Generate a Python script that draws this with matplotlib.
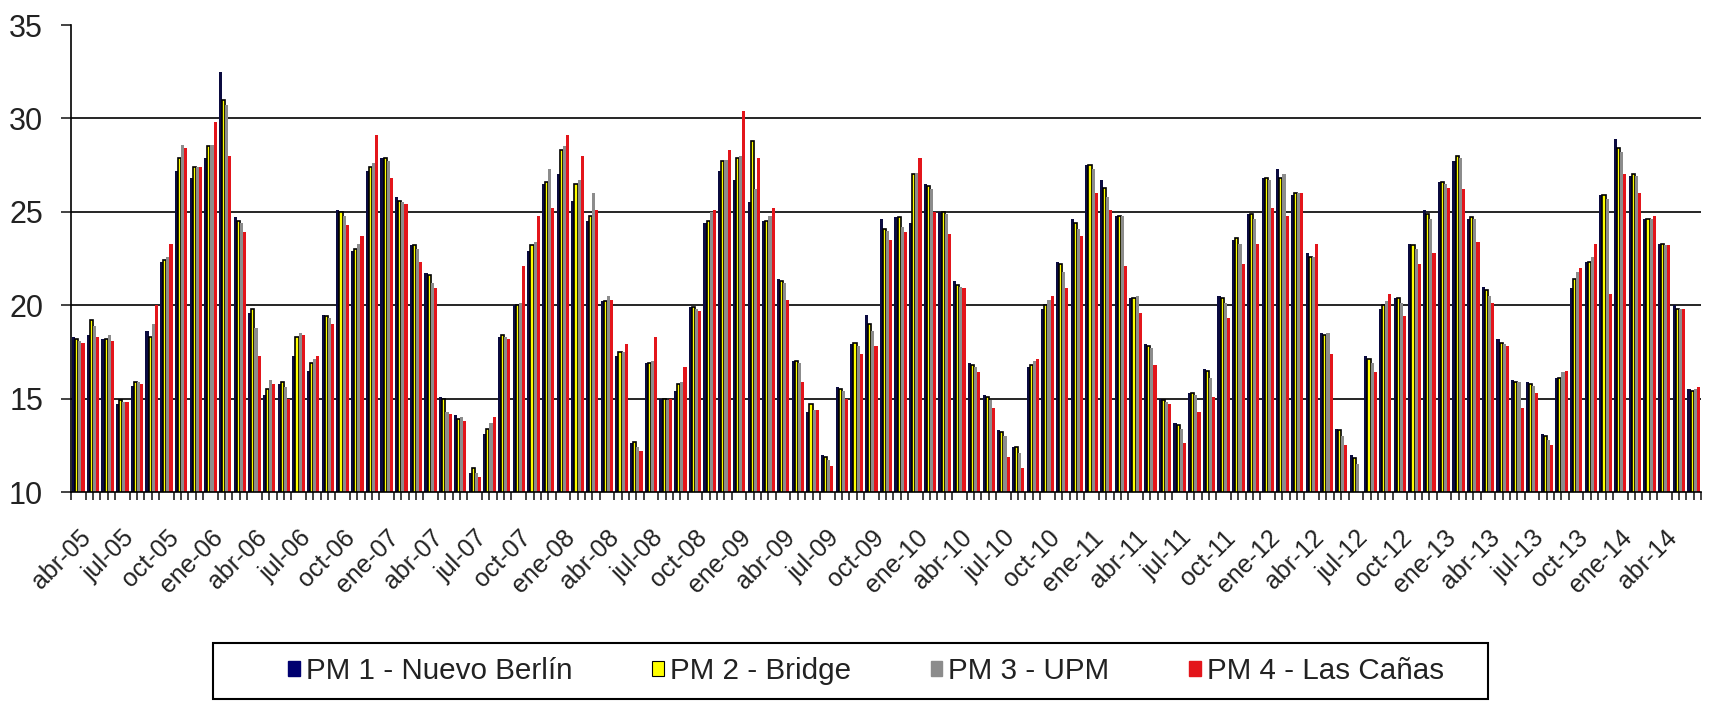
import numpy as np
import matplotlib.pyplot as plt
from matplotlib.patches import Patch, Rectangle

plt.rcParams["font.family"] = ["Liberation Sans", "DejaVu Sans"]

# monthly values, abr-05 .. jun-14
MESES = ["ene", "feb", "mar", "abr", "may", "jun", "jul", "ago", "sep", "oct", "nov", "dic"]

pm1 = [18.3, 18.4, 18.2, 14.7, 15.7, 18.6, 22.3, 27.2, 26.8, 27.9, 32.5, 24.7,
       19.6, 15.2, 15.8, 17.3, 16.5, 19.5, 25.1, 22.9, 27.2, 27.9, 25.8, 23.2,
       21.7, 15.1, 14.1, 11.0, 13.1, 18.3, 20.0, 22.9, 26.5, 27.0, 25.6, 24.5,
       20.2, 17.3, 12.6, 16.9, 15.0, 15.4, 19.9, 24.4, 27.2, 26.7, 25.5, 24.5,
       21.4, 17.0, 14.3, 12.0, 15.6, 17.9, 19.5, 24.6, 24.7, 24.4, 26.5, 25.0,
       21.3, 16.9, 15.2, 13.3, 12.4, 16.7, 19.8, 22.3, 24.6, 27.5, 26.7, 24.8,
       20.4, 17.9, 15.0, 13.7, 15.3, 16.6, 20.5, 23.5, 24.9, 26.8, 27.3, 25.9,
       22.8, 18.5, 13.4, 12.0, 17.3, 19.8, 20.4, 23.3, 25.1, 26.6, 27.7, 24.6,
       21.0, 18.2, 16.0, 15.9, 13.1, 16.1, 20.9, 22.3, 25.9, 28.9, 26.9, 24.6,
       23.3, 20.0, 15.5]

pm2 = [18.2, 19.2, 18.2, 14.9, 15.9, 18.3, 22.4, 27.9, 27.4, 28.5, 31.0, 24.5,
       19.8, 15.5, 15.9, 18.3, 16.9, 19.4, 25.0, 23.0, 27.4, 27.9, 25.6, 23.2,
       21.6, 15.0, 13.9, 11.3, 13.4, 18.4, 20.0, 23.2, 26.6, 28.3, 26.5, 24.8,
       20.2, 17.5, 12.7, 16.9, 15.0, 15.8, 19.9, 24.5, 27.7, 27.9, 28.8, 24.5,
       21.3, 17.0, 14.7, 11.9, 15.5, 18.0, 19.0, 24.1, 24.7, 27.0, 26.4, 25.0,
       21.1, 16.8, 15.1, 13.2, 12.4, 16.8, 20.0, 22.2, 24.4, 27.5, 26.3, 24.8,
       20.4, 17.8, 14.9, 13.6, 15.3, 16.5, 20.4, 23.6, 24.9, 26.8, 26.8, 26.0,
       22.6, 18.4, 13.3, 11.8, 17.1, 20.0, 20.4, 23.2, 24.9, 26.6, 28.0, 24.7,
       20.8, 18.0, 15.9, 15.8, 13.0, 16.1, 21.4, 22.3, 25.9, 28.4, 27.0, 24.6,
       23.3, 19.8, 15.4]

pm3 = [18.1, 18.9, 18.4, 14.8, 15.9, 19.0, 22.6, 28.6, 27.4, 28.6, 30.7, 24.4,
       18.8, 16.0, 15.6, 18.5, 17.1, 19.3, 24.8, 23.3, 27.6, 27.7, 25.5, 23.0,
       21.2, 14.3, 14.0, 11.0, 13.7, 18.3, 20.1, 23.4, 27.3, 28.5, 26.7, 26.0,
       20.5, 17.5, 12.4, 17.0, 14.9, 15.9, 19.8, 25.0, 27.8, 28.0, 26.2, 24.8,
       21.2, 16.9, 14.4, 11.7, 15.4, 17.8, 18.6, 24.0, 24.2, 27.1, 26.2, 24.9,
       21.0, 16.7, 14.9, 13.0, 12.1, 17.0, 20.3, 21.8, 24.1, 27.3, 25.8, 24.8,
       20.5, 17.7, 14.8, 13.4, 15.2, 16.1, 20.1, 23.3, 24.6, 26.7, 27.0, 26.0,
       22.6, 18.5, 13.0, 11.5, 16.9, 20.2, 20.1, 23.0, 24.6, 26.5, 27.9, 24.6,
       20.5, 17.9, 15.9, 15.7, 12.8, 16.4, 21.8, 22.6, 25.7, 28.2, 26.9, 24.6,
       23.2, 19.8, 15.5]

pm4 = [18.0, 18.3, 18.1, 14.8, 15.8, 20.0, 23.3, 28.4, 27.4, 29.8, 28.0, 23.9,
       17.3, 15.8, 15.0, 18.4, 17.3, 19.0, 24.3, 23.7, 29.1, 26.8, 25.4, 22.3,
       20.9, 14.2, 13.8, 10.8, 14.0, 18.2, 22.1, 24.8, 25.2, 29.1, 28.0, 25.1,
       20.3, 17.9, 12.2, 18.3, 15.0, 16.7, 19.7, 25.1, 28.3, 30.4, 27.9, 25.2,
       20.3, 15.9, 14.4, 11.4, 15.0, 17.4, 17.8, 23.5, 23.9, 27.9, 25.0, 23.8,
       20.9, 16.4, 14.5, 11.9, 11.3, 17.1, 20.5, 20.9, 23.7, 26.0, 25.1, 22.1,
       19.6, 16.8, 14.7, 12.6, 14.3, 15.1, 19.3, 22.2, 23.3, 25.2, 24.8, 26.0,
       23.3, 17.4, 12.5, np.nan, 16.4, 20.6, 19.4, 22.2, 22.8, 26.3, 26.2, 23.4,
       20.1, 17.8, 14.5, 15.3, 12.5, 16.5, 22.0, 23.3, 20.6, 27.0, 26.0, 24.8,
       23.2, 19.8, 15.6]

series = [("PM 1 - Nuevo Berlín", pm1, "#0b0b40"),
          ("PM 2 - Bridge", pm2, "#ffff00"),
          ("PM 3 - UPM", pm3, "#8c8c8c"),
          ("PM 4 - Las Cañas", pm4, "#e3151b")]

n = len(pm1)
labels = []
for i in range(n):
    m = (3 + i) % 12
    y = 5 + (3 + i) // 12
    labels.append(f"{MESES[m]}-{y:02d}")

fig = plt.figure(figsize=(17.09, 7.03), dpi=100)
ax = fig.add_axes([0.0415, 0.3001, 0.9538, 0.6643])

x = np.arange(n)
w = 0.85 / 4
for k, (name, vals, col) in enumerate(series):
    xs = x - 0.425 + w * (k + 0.5)
    if k == 1:
        ax.bar(xs, vals, width=w, color=col, edgecolor="black", linewidth=1.2, zorder=2)
    else:
        ax.bar(xs, vals, width=w, color=col, linewidth=0, zorder=2)

for g in [15, 20, 25, 30]:
    ax.axhline(g, color="black", linewidth=1.2, zorder=1)

ax.set_ylim(10, 35)
ax.set_xlim(-0.5, n - 0.5)
ax.set_yticks([10, 15, 20, 25, 30, 35])
ax.tick_params(axis="y", labelsize=22, length=7, width=1.2, pad=13, colors="#222222")

tick_idx = list(range(0, n, 3))
ax.set_xticks(tick_idx)
ax.set_xticklabels([labels[i] for i in tick_idx], rotation=45, ha="right",
                   rotation_mode="anchor", fontsize=18, color="#222222")
ax.set_xticks(np.arange(-0.5, n, 0.5), minor=True)
ax.tick_params(axis="x", which="major", length=0, pad=24)
ax.tick_params(axis="x", which="minor", length=6, width=1.2, colors="#222222")

for s in ["top", "right"]:
    ax.spines[s].set_visible(False)
for s in ["left", "bottom"]:
    ax.spines[s].set_linewidth(1.2)
    ax.spines[s].set_color("black")

# legend box drawn separately so the padding matches
fig.patches.append(Rectangle((213 / 1709, 4 / 703), 1275 / 1709, 56 / 703,
                             transform=fig.transFigure, fill=False,
                             edgecolor="black", linewidth=1.5))
handles = [Patch(facecolor="#000070", edgecolor="#000070"),
           Patch(facecolor="#ffff00", edgecolor="black", linewidth=0.8),
           Patch(facecolor="#8c8c8c", edgecolor="#8c8c8c"),
           Patch(facecolor="#e3151b", edgecolor="#e3151b")]
leg = fig.legend(handles, [s[0] for s in series], ncol=4, loc="center",
                 bbox_to_anchor=(866 / 1709, 1 - 671 / 703),
                 frameon=False, fontsize=21.3, columnspacing=2.7,
                 handlelength=0.4, handleheight=0.4, handletextpad=0.2)
for t in leg.get_texts():
    t.set_color("#222222")

fig.savefig("out.png", dpi=100)
